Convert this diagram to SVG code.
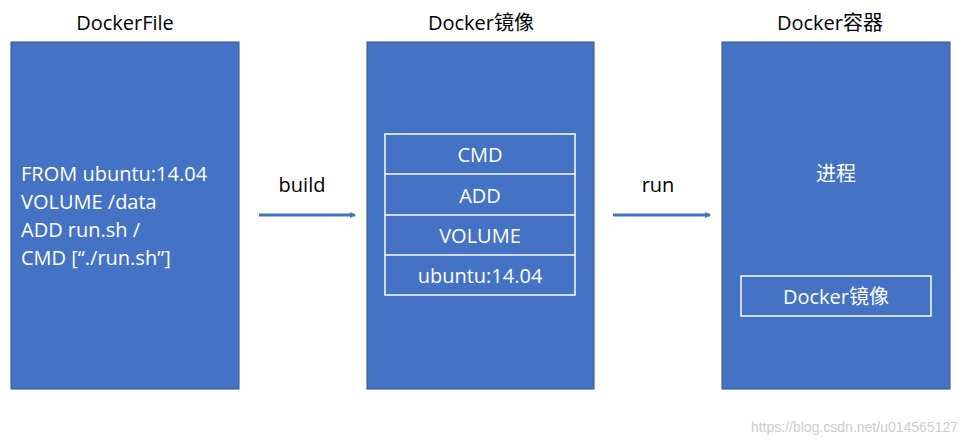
<svg xmlns="http://www.w3.org/2000/svg" width="968" height="444" viewBox="0 0 968 444">
<style>
.box{fill:#4472C4;stroke:#2F528F;stroke-width:1}
.in{fill:none;stroke:#fff;stroke-width:1.5}
.t{font-family:"Open Sans","Liberation Sans","Noto Sans CJK SC",sans-serif;font-size:20px}
.w{fill:#fff}
.c{text-anchor:middle}
.ln{stroke:#4472C4;stroke-width:3;fill:none}
</style>
<defs><marker id="a" markerWidth="6" markerHeight="6" refX="5" refY="3" orient="auto" markerUnits="userSpaceOnUse"><path d="M0,0 L9,3 L0,6 Z" fill="#4472C4" transform="scale(0.67,1)"/></marker></defs>
<rect width="968" height="444" fill="#fff"/>
<g id="dockerfile">
<rect class="box" x="11" y="42" width="228" height="347"/>
<text class="t c" x="125" y="30">DockerFile</text>
<text class="t w" x="21" y="181">FROM ubuntu:14.04</text>
<text class="t w" x="21" y="209">VOLUME /data</text>
<text class="t w" x="21" y="237">ADD run.sh /</text>
<text class="t w" x="21" y="265">CMD [“./run.sh”]</text>
</g>
<g id="image">
<rect class="box" x="367" y="42" width="227" height="347"/>
<text class="t c" x="481" y="30">Docker镜像</text>
<rect class="in" x="385" y="134" width="190" height="161"/>
<line class="in" x1="385" y1="174" x2="575" y2="174"/>
<line class="in" x1="385" y1="215" x2="575" y2="215"/>
<line class="in" x1="385" y1="255" x2="575" y2="255"/>
<text class="t w c" x="480" y="162">CMD</text>
<text class="t w c" x="480" y="203">ADD</text>
<text class="t w c" x="480" y="243">VOLUME</text>
<text class="t w c" x="480" y="283">ubuntu:14.04</text>
</g>
<g id="container">
<rect class="box" x="722" y="42" width="228" height="347"/>
<text class="t c" x="830" y="30">Docker容器</text>
<text class="t w c" x="836" y="181">进程</text>
<rect class="in" x="741" y="276" width="190" height="40"/>
<text class="t w c" x="836" y="304">Docker镜像</text>
</g>
<g id="connectors">
<line class="ln" x1="259" y1="215" x2="355" y2="215" marker-end="url(#a)"/>
<text class="t c" x="302" y="192">build</text>
<line class="ln" x1="613" y1="215" x2="710" y2="215" marker-end="url(#a)"/>
<text class="t c" x="658" y="192">run</text>
</g>
<text x="958" y="432" text-anchor="end" font-family="Liberation Sans,sans-serif" font-size="14" fill="#ccc">https://blog.csdn.net/u014565127</text>
</svg>
